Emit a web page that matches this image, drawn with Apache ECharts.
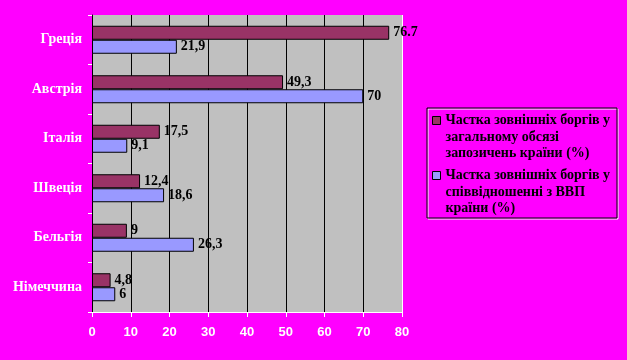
<!DOCTYPE html>
<html><head><meta charset="utf-8">
<script src="https://cdn.jsdelivr.net/npm/echarts@6/dist/echarts.min.js"></script>
<style>html,body{margin:0;padding:0;background:#FF00FF}#c{width:627px;height:360px}</style>
</head><body><div id="c"></div>
<script>
const categories = ['Греція','Австрія','Італія','Швеція','Бельгія','Німеччина'];
const seriesNames = ['Частка зовнішніх боргів у\nзагальному обсязі\nзапозичень країни (%)','Частка зовнішніх боргів у\nспіввідношенні з ВВП\nкраїни (%)'];
const shareOfBorrowing = [76.7, 49.3, 17.5, 12.4, 9, 4.8];
const shareOfGDP = [21.9, 70, 9.1, 18.6, 26.3, 6];
const labelsBorrowing = ['76.7','49,3','17,5','12,4','9','4,8'];
const labelsGDP = ['21,9','70','9,1','18,6','26,3','6'];
const xTicks = [0,10,20,30,40,50,60,70,80];

const chart = echarts.init(document.getElementById('c'), null, {renderer:'canvas'});
const serif = '"Liberation Serif","DejaVu Serif",serif';
const lblStyle = {show:true, position:'right', distance:4, color:'#000', fontFamily:serif, fontWeight:'bold', fontSize:14};
chart.setOption({
  backgroundColor:'#FF00FF',
  animation:false,
  grid:{left:92,right:225,top:15,bottom:48,show:true,backgroundColor:'#C0C0C0',borderWidth:0,containLabel:false},
  xAxis:{type:'value',min:xTicks[0],max:xTicks[xTicks.length-1],interval:10,
    axisLine:{show:true,lineStyle:{color:'#fff',width:1}},
    axisTick:{show:true,length:5,lineStyle:{color:'#fff'}},
    axisLabel:{margin:14,color:'#fff',fontFamily:'"Liberation Sans",Arial,sans-serif',fontWeight:'bold',fontSize:13,
      textShadowColor:'#000',textShadowOffsetX:1,textShadowOffsetY:1,textShadowBlur:0},
    splitLine:{show:true,lineStyle:{color:['#000','#000','#000','#000','#000','#000','#000','#000','#fff'],width:1}}},
  yAxis:{type:'category',data:categories,inverse:true,
    axisLine:{show:true,lineStyle:{color:'#000',width:1}},
    axisTick:{show:true,length:4,lineStyle:{color:'#fff'}},
    axisLabel:{margin:10,color:'#fff',fontFamily:serif,fontWeight:'bold',fontSize:14,
      textShadowColor:'#000',textShadowOffsetX:1,textShadowOffsetY:1,textShadowBlur:0},
    splitLine:{show:false}},
  legend:{orient:'vertical',left:432,top:112,padding:0,itemGap:5,itemWidth:8,itemHeight:49,
    icon:'path://M0,0h0.01 M0,4h8v8h-8z M0,49h0.01',
    data:seriesNames,
    textStyle:{color:'#000',fontFamily:serif,fontWeight:'bold',fontSize:14,lineHeight:16.5,
      textShadowColor:'#fff',textShadowOffsetX:1,textShadowOffsetY:1,textShadowBlur:0,padding:[0,0,0,0]},
    itemStyle:{borderColor:'#000',borderWidth:1}},
  graphic:[
    {type:'rect',shape:{x:428,y:109,width:190,height:110},style:{fill:null,stroke:'#fff',lineWidth:1},silent:true},
    {type:'rect',shape:{x:427,y:108,width:190,height:110},style:{fill:null,stroke:'#000',lineWidth:1},silent:true}
  ],
  series:[
    {name:seriesNames[0],type:'bar',data:shareOfBorrowing,barWidth:14,barGap:'0%',
      itemStyle:{color:'#993366',borderColor:'#000',borderWidth:1},
      label:Object.assign({},lblStyle,{formatter:p=>labelsBorrowing[p.dataIndex]})},
    {name:seriesNames[1],type:'bar',data:shareOfGDP,barWidth:14,barGap:'0%',
      itemStyle:{color:'#9999FF',borderColor:'#000',borderWidth:1},
      label:Object.assign({},lblStyle,{formatter:p=>labelsGDP[p.dataIndex]})}
  ]
});
</script></body></html>
